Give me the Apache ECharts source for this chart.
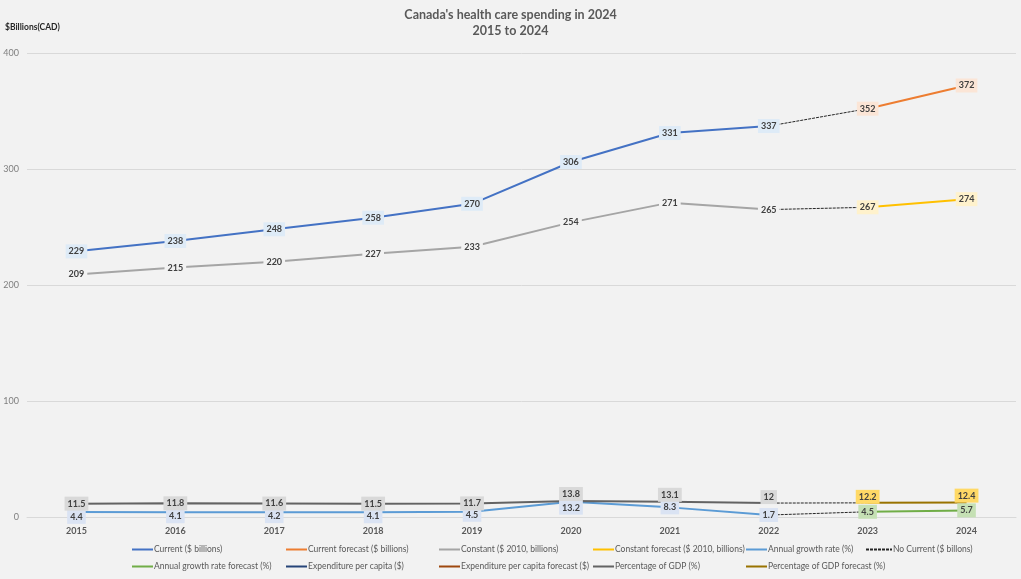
<!DOCTYPE html>
<html><head><meta charset="utf-8">
<script src="https://cdn.jsdelivr.net/npm/echarts@6/dist/echarts.min.js"></script>
<style>html,body{margin:0;padding:0;background:#f2f2f2}#c{width:1021px;height:579px}</style>
</head><body><div id="c"></div>
<script>
const years = ['2015','2016','2017','2018','2019','2020','2021','2022','2023','2024'];
const current = [229, 238, 248, 258, 270, 306, 331, 337, null, null];
const currentForecast = [null, null, null, null, null, null, null, null, 352, 372];
const constant = [209, 215, 220, 227, 233, 254, 271, 265, null, null];
const constantForecast = [null, null, null, null, null, null, null, null, 267, 274];
const growth = [4.4, 4.1, 4.2, 4.1, 4.5, 13.2, 8.3, 1.7, null, null];
const growthForecast = [null, null, null, null, null, null, null, null, 4.5, 5.7];
const gdp = [11.5, 11.8, 11.6, 11.5, 11.7, 13.8, 13.1, 12, null, null];
const gdpForecast = [null, null, null, null, null, null, null, null, 12.2, 12.4];
const perCapita = [];
const perCapitaForecast = [];
// label vertical nudges (px), styling only
const growthLabelShift = [5, 4, 4, 4, 3, 6, 0, 0, 0, 0];
const gdpLabelShift = [0, 0, 0, 0, 0, -7, -7, -6, -6, -7];

const FONT = 'Lato, "Noto Sans", sans-serif';
function withShift(arr, shift) {
  return arr.map((v, i) => ({ value: v, label: { offset: [0, shift ? shift[i] : 0] } }));
}
function lineSeries(name, data, color, labelBg, shift) {
  return {
    name, type: 'line', data: withShift(data, shift), symbol: 'circle', symbolSize: 0.01, showSymbol: true,
    lineStyle: { color, width: 2 }, itemStyle: { color },
    label: { show: true, position: 'inside', color: '#404040', fontSize: 9, fontWeight: 'bold',
      fontFamily: FONT, backgroundColor: labelBg, padding: [3, 3, 2, 3] },
    emphasis: { disabled: true }, animation: false, z: 3
  };
}
function bridge(arr, i) {
  const d = years.map(() => null);
  d[i] = arr[0]; d[i + 1] = arr[1];
  return { name: 'No Current ($ billons)', type: 'line', data: d, symbol: 'none',
    lineStyle: { color: '#262626', width: 1, type: [3, 1] }, itemStyle: { color: '#262626' },
    emphasis: { disabled: true }, animation: false, z: 1 };
}

const series = [
  lineSeries('Current ($ billions)', current, '#4472c4', '#deebf7'),
  lineSeries('Current forecast ($ billions)', currentForecast, '#ed7d31', '#fbe5d6'),
  lineSeries('Constant ($ 2010, billions)', constant, '#a5a5a5', '#f2f2f2'),
  lineSeries('Constant forecast ($ 2010, billions)', constantForecast, '#ffc000', '#fff2cc'),
  lineSeries('Annual growth rate (%)', growth, '#5b9bd5', '#dae3f3', growthLabelShift),
  bridge([current[7], currentForecast[8]], 7),
  bridge([constant[7], constantForecast[8]], 7),
  bridge([gdp[7], gdpForecast[8]], 7),
  bridge([growth[7], growthForecast[8]], 7),
  lineSeries('Annual growth rate forecast (%)', growthForecast, '#70ad47', '#c5e0b4'),
  lineSeries('Expenditure per capita ($)', perCapita, '#264478', 'transparent'),
  lineSeries('Expenditure per capita forecast ($)', perCapitaForecast, '#9e480e', 'transparent'),
  lineSeries('Percentage of GDP (%)', gdp, '#636363', '#d9d9d9', gdpLabelShift),
  lineSeries('Percentage of GDP forecast (%)', gdpForecast, '#997300', '#ffd966', gdpLabelShift)
];

const legendSpec = [
  ['Current ($ billions)', 131, 545], ['Current forecast ($ billions)', 285, 545],
  ['Constant ($ 2010, billions)', 438, 545], ['Constant forecast ($ 2010, billions)', 592, 545],
  ['Annual growth rate (%)', 745, 545], ['No Current ($ billons)', 865, 545],
  ['Annual growth rate forecast (%)', 131, 562], ['Expenditure per capita ($)', 285, 562],
  ['Expenditure per capita forecast ($)', 438, 562], ['Percentage of GDP (%)', 592, 562],
  ['Percentage of GDP forecast (%)', 745, 562]
];
const legends = legendSpec.map(([n, x, y]) => ({
  data: [n], left: x - 5, top: y - 5, itemWidth: n.startsWith('No Current') ? 26 : 21, itemHeight: 10,
  itemGap: 2, selectedMode: false, itemStyle: { opacity: 0 },
  textStyle: { color: '#595959', fontSize: 8.5, fontFamily: FONT, padding: [0, 0, 0, -4] }
}));

const chart = echarts.init(document.getElementById('c'), null, { renderer: 'canvas' });
chart.setOption({
  backgroundColor: '#f2f2f2',
  animation: false,
  textStyle: { fontFamily: FONT },
  title: [
    { text: "Canada's health care spending in 2024\n2015 to 2024", left: 'center', top: 2,
      textStyle: { color: '#595959', fontSize: 12.5, fontWeight: 'bold', fontFamily: FONT, lineHeight: 16 } },
    { text: '$Billions(CAD)', left: 0, top: 18,
      textStyle: { color: '#262626', fontSize: 8.5, fontWeight: 'bold', fontFamily: FONT } }
  ],
  legend: legends,
  grid: { left: 27, right: 5, top: 53, bottom: 62, containLabel: false },
  xAxis: { type: 'category', data: years, boundaryGap: true,
    axisTick: { show: false }, axisLine: { lineStyle: { color: '#d9d9d9' } },
    axisLabel: { color: '#595959', fontSize: 9, fontWeight: 'bold', fontFamily: FONT, margin: 10 } },
  yAxis: { type: 'value', min: 0, max: 400, interval: 100,
    axisLine: { show: false }, axisTick: { show: false },
    splitLine: { lineStyle: { color: '#d9d9d9' } },
    axisLabel: { color: '#7f7f7f', fontSize: 9, fontFamily: FONT, margin: 8 } },
  series
});
</script></body></html>
